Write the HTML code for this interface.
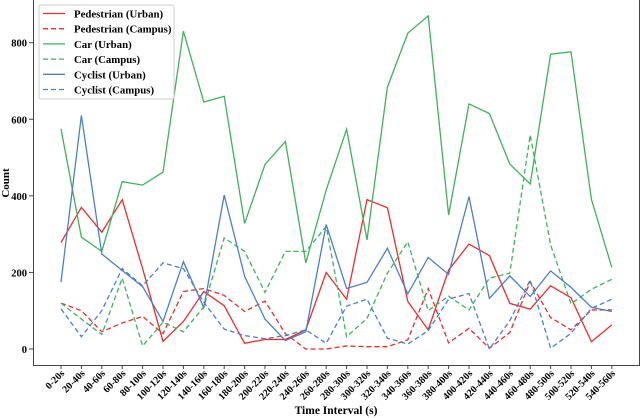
<!DOCTYPE html>
<html><head><meta charset="utf-8"><style>
body{margin:0;background:#fff}
svg{display:block;font-family:"Liberation Serif",serif;font-weight:bold}
</style></head><body>
<svg id="chart" width="640" height="418" viewBox="0 0 640 418" xmlns="http://www.w3.org/2000/svg"></svg>
<script>
const categories=["0-20s","20-40s","40-60s","60-80s","80-100s","100-120s","120-140s","140-160s","160-180s","180-200s","200-220s","220-240s","240-260s","260-280s","280-300s","300-320s","320-340s","340-360s","360-380s","380-400s","400-420s","420-440s","440-460s","460-480s","480-500s","500-520s","520-540s","540-560s"];
const pedUrban=[278,370,305,390,210,20,72,150,113,15,25,25,50,200,130,390,369,124,50,206,274,244,119,104,165,134,19,63];
const pedCampus=[120,100,45,68,85,40,150,158,140,98,125,40,0,0,8,6,6,24,158,16,54,2,43,176,82,50,102,102];
const carUrban=[575,292,255,437,428,462,830,645,660,328,482,542,225,415,574,285,684,825,870,350,640,615,483,431,770,776,391,213];
const carCampus=[120,78,38,185,8,70,45,110,290,255,148,255,255,320,32,80,198,280,100,138,102,185,198,559,272,118,156,182];
const cycUrban=[175,610,248,205,163,72,228,108,402,190,78,22,45,325,158,174,263,144,239,195,398,132,191,137,204,161,109,98];
const cycCampus=[105,32,100,210,165,225,210,122,52,35,27,35,50,15,112,130,28,13,48,130,145,0,74,180,2,41,106,130];
const yTicks=[0,200,400,600,800];
const seriesNames=["Pedestrian (Urban)","Pedestrian (Campus)","Car (Urban)","Car (Campus)","Cyclist (Urban)","Cyclist (Campus)"];

const NS="http://www.w3.org/2000/svg";
const svg=document.getElementById('chart');
const x=i=>61+i*20.4;
const y=v=>349-v*0.3829;
function mk(tag,attrs,parent){const e=document.createElementNS(NS,tag);for(const k in attrs)e.setAttribute(k,attrs[k]);(parent||svg).appendChild(e);return e;}
const ax=mk('path',{d:'M33.5,0 V365.5 H639.5 V0',fill:'none',stroke:'#444','stroke-width':1});


yTicks.forEach(v=>{
  const t=mk('line',{x1:29,x2:33,y1:y(v),y2:y(v),stroke:'#444'});
  
  
  const l=mk('text',{x:27,y:y(v)+4,'text-anchor':'end','font-size':10.5});
  l.textContent=v;
  
  
});
categories.forEach((c,i)=>{
  const t=mk('line',{x1:x(i),x2:x(i),y1:365,y2:369,stroke:'#444'});
  
  
  const l=mk('text',{transform:`translate(${x(i)+4},${374}) rotate(-45)`,'text-anchor':'end','font-size':10});
  l.textContent=c;
  
  
});
const yl=mk('text',{transform:'translate(9,183) rotate(-90)','text-anchor':'middle','font-size':11});
yl.textContent='Count';


const xl=mk('text',{x:336,y:414,'text-anchor':'middle','font-size':11.5});
xl.textContent='Time Interval (s)';



const RED='#ee2b2b',GREEN='#3db35a',BLUE='#4a80c4';
const series=[[pedUrban,RED,false],[pedCampus,RED,true],[carUrban,GREEN,false],[carCampus,GREEN,true],[cycUrban,BLUE,false],[cycCampus,BLUE,true]];
series.forEach(([d,col,dash],k)=>{
  const p=mk('polyline',{points:d.map((v,i)=>x(i)+','+y(v)).join(' '),fill:'none',stroke:col,'stroke-width':1.3,'stroke-dasharray':dash?'5,3':'none'});
  
  
});
const lg=mk('g',{});


mk('rect',{x:39,y:5,width:135,height:94,fill:'#fff','fill-opacity':0.85,stroke:'#ccc',rx:2},lg);
series.forEach(([d,col,dash],k)=>{
  const yy=13.5+k*15.2;
  mk('line',{x1:43,x2:65,y1:yy,y2:yy,stroke:col,'stroke-width':1.3,'stroke-dasharray':dash?'5,3':'none'},lg);
  const t=mk('text',{x:74,y:yy+4,'font-size':10.8},lg);
  t.textContent=seriesNames[k];
  
  
});
</script>
</body></html>
